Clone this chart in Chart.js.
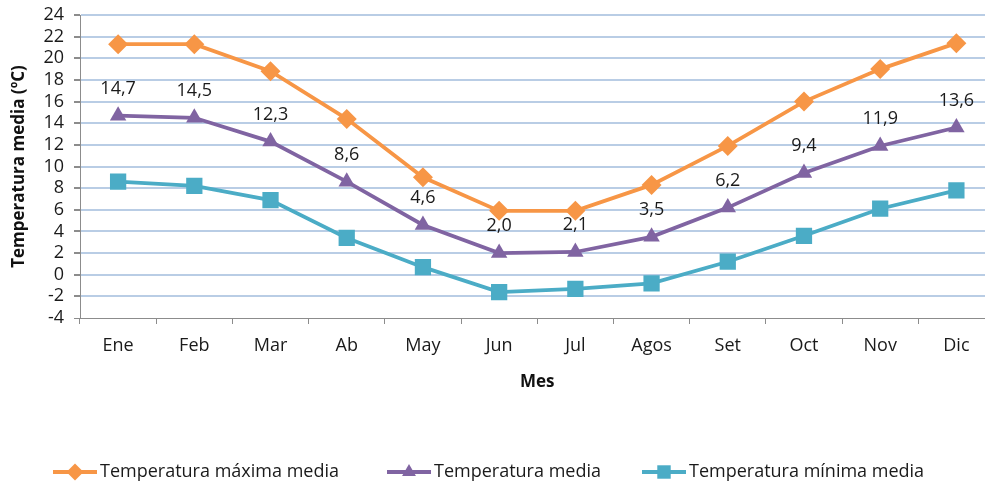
<!DOCTYPE html>
<html>
<head>
<meta charset="utf-8">
<script src="https://cdn.jsdelivr.net/npm/chart.js@4.4.1/dist/chart.umd.min.js"></script>
<style>
  html, body { margin: 0; padding: 0; background: #fff; overflow: hidden; }
  #wrap { position: relative; width: 1006px; height: 484px; }
</style>
</head>
<body>
<div id="wrap"><canvas id="tempChart"></canvas></div>
<script>
const meses = ['Ene', 'Feb', 'Mar', 'Ab', 'May', 'Jun', 'Jul', 'Agos', 'Set', 'Oct', 'Nov', 'Dic'];
const tempMaxima = [21.3, 21.3, 18.8, 14.4, 9.0, 5.9, 5.9, 8.3, 11.9, 16.0, 19.0, 21.4];
const tempMedia = [14.7, 14.5, 12.3, 8.6, 4.6, 2.0, 2.1, 3.5, 6.2, 9.4, 11.9, 13.6];
const tempMinima = [8.6, 8.2, 6.9, 3.4, 0.7, -1.6, -1.3, -0.8, 1.2, 3.6, 6.1, 7.8];
const nombresSeries = ['Temperatura máxima media', 'Temperatura media', 'Temperatura mínima media'];

const fuente = "'Open Sans', 'Liberation Sans', sans-serif";
const colores = ['#F79646', '#8064A2', '#4BACC6'];
const marcadores = ['rectRot', 'triangle', 'rect'];

// etiquetas sobre la serie media
const etiquetasMedia = {
    id: 'etiquetasMedia',
    afterDatasetsDraw(chart) {
        const ctx = chart.ctx;
        const meta = chart.getDatasetMeta(1);
        ctx.save();
        ctx.font = '18px ' + fuente;
        ctx.fillStyle = '#1a1a1a';
        ctx.textAlign = 'center';
        ctx.textBaseline = 'middle';
        meta.data.forEach(function (pt, i) {
            const txt = tempMedia[i].toFixed(1).replace('.', ',');
            ctx.fillText(txt, pt.x, pt.y - 27);
        });
        ctx.restore();
    }
};

// leyenda con linea + marcador
const leyenda = {
    id: 'leyenda',
    afterDraw(chart) {
        const ctx = chart.ctx;
        const starts = [53, 387, 642];
        const radios = [8.5, 8, 9.5];
        const y = 472;
        ctx.save();
        ctx.font = '18px ' + fuente;
        ctx.textBaseline = 'middle';
        nombresSeries.forEach(function (nombre, i) {
            const x0 = starts[i];
            ctx.strokeStyle = colores[i];
            ctx.lineWidth = 4;
            ctx.beginPath();
            ctx.moveTo(x0, y);
            ctx.lineTo(x0 + 44, y);
            ctx.stroke();
            ctx.fillStyle = colores[i];
            Chart.helpers.drawPoint(ctx, { pointStyle: marcadores[i], radius: radios[i], borderWidth: 0 }, x0 + 22, y);
            ctx.fillStyle = '#1a1a1a';
            ctx.fillText(nombre, x0 + 47, y);
        });
        ctx.restore();
    }
};

const myChart = document.getElementById('tempChart');
let data = {
    labels: meses,
    datasets: [
        { label: nombresSeries[0], data: tempMaxima, pointStyle: 'rectRot', pointRadius: 10 },
        { label: nombresSeries[1], data: tempMedia, pointStyle: 'triangle', pointRadius: 9.5 },
        { label: nombresSeries[2], data: tempMinima, pointStyle: 'rect', pointRadius: 11.5 }
    ].map(function (ds, i) {
        ds.borderColor = colores[i];
        ds.backgroundColor = colores[i];
        ds.pointBackgroundColor = colores[i];
        ds.pointBorderColor = colores[i];
        ds.pointBorderWidth = 0;
        ds.borderWidth = 3.75;
        ds.tension = 0;
        ds.order = 3 - i;
        return ds;
    })
};

let newChart = new Chart(myChart, {
    type: 'line',
    data: data,
    plugins: [etiquetasMedia, leyenda],
    options: {
        responsive: true,
        maintainAspectRatio: false,
        animation: false,
        layout: { padding: { top: 15, right: 0, bottom: 92, left: 0 } },
        plugins: {
            legend: { display: false },
            tooltip: { enabled: false }
        },
        scales: {
            x: {
                offset: true,
                grid: {
                    offset: true,
                    drawOnChartArea: false,
                    drawTicks: true,
                    tickLength: 6,
                    tickColor: '#8c8c8c',
                    tickWidth: 1
                },
                border: { color: '#8c8c8c', width: 1 },
                ticks: {
                    color: '#1a1a1a',
                    padding: 11,
                    maxRotation: 0,
                    autoSkip: false,
                    font: { family: fuente, size: 18 }
                },
                title: {
                    display: true,
                    text: 'Mes',
                    color: '#111',
                    padding: { top: 4, bottom: 0 },
                    font: { family: fuente, size: 17, weight: 'bold' }
                },
                afterFit(scale) {
                    scale.height = 74;
                    scale.paddingLeft = 0;
                    scale.paddingRight = 0;
                }
            },
            y: {
                min: -4,
                max: 24,
                ticks: {
                    stepSize: 2,
                    autoSkip: false,
                    color: '#1a1a1a',
                    padding: 10,
                    font: { family: fuente, size: 18 }
                },
                grid: {
                    color: function (c) { return c.tick && c.tick.value === -4 ? '#8c8c8c' : '#B9CDE5'; },
                    lineWidth: function (c) { return c.tick && c.tick.value === -4 ? 1 : 2; },
                    tickColor: '#8c8c8c',
                    tickLength: 6
                },
                border: { color: '#8c8c8c', width: 1 },
                title: {
                    display: true,
                    text: 'Temperatura media (ºC)',
                    color: '#111',
                    padding: { top: 9, bottom: 0 },
                    font: { family: fuente, size: 17, weight: 'bold' }
                },
                afterFit(scale) {
                    scale.width = 80;
                    scale.paddingTop = 0;
                    scale.paddingBottom = 0;
                }
            }
        }
    }
});
</script>
</body>
</html>
